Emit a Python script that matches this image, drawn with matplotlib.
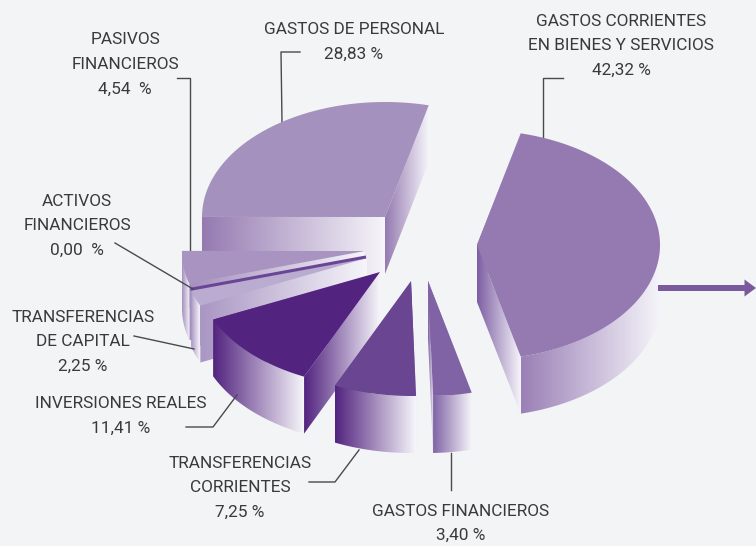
import numpy as np
import matplotlib
matplotlib.use("Agg")
import matplotlib.pyplot as plt
from matplotlib.colors import LinearSegmentedColormap
from matplotlib.patches import Polygon

#slices clockwise, starting from the big one
categories = ["GASTOS CORRIENTES\nEN BIENES Y SERVICIOS", "GASTOS FINANCIEROS", "TRANSFERENCIAS\nCORRIENTES",
	"INVERSIONES REALES", "TRANSFERENCIAS\nDE CAPITAL", "ACTIVOS\nFINANCIEROS", "PASIVOS\nFINANCIEROS", "GASTOS DE PERSONAL"]
values = [42.32, 3.40, 7.25, 11.41, 2.25, 0.00, 4.54, 28.83]
value_labels = ["42,32 %", "3,40 %", "7,25 %", "11,41 %", "2,25 %", "0,00  %", "4,54  %", "28,83 %"]

#pixel position of each slice's apex (how far it was pulled out of the pie)
apex_x = [477, 428, 411, 380, 367, 366, 365, 385]
apex_y = [245, 281, 281, 272, 258, 257, 251, 217]
top_colors = ["#957ab1", "#8063a5", "#694592", "#52237f", "#baabd0", "#6a4596", "#a994c1", "#a591bd"]
wall_colors = ["#9a80b6", "#8063a5", "#52237f", "#52237f", "#a996c3", "#6a4596", "#a48fbe", "#957ab1"]
cut_colors = ["#7c5ea3", "#7e60a3", "#52237f", "#52237f", "#a996c3", "#6a4596", "#a48fbe", "#957ab1"]
draw_order = [7, 0, 6, 5, 4, 3, 2, 1]

#label anchor (centre x, first line centre y), and leader line points
label_x = [621, 461, 240, 121, 83, 77, 125, 354]
label_y = [21, 511, 463, 404, 317, 201, 40, 30]
leaders = [[(543, 137), (543, 78), (563, 78)], [(451, 453), (451, 490)], [(359, 450), (335, 482), (309, 482)],
	[(237, 395), (213, 427), (186, 427)], [(194, 349), (134, 336)], [(193, 289), (115, 243)],
	[(190, 250), (190, 78), (177, 78)], [(282, 122), (281, 52), (300, 52)]]

RX = 183
RY = 115
DEPTH = 57
START = 76.18
BG = "#f2f4f6"
TXT = "#3a3a3c"


def gradient_fill(ax, pts, color, z):
	#left to right gradient towards near white, clipped to the polygon
	pts = np.array(pts)
	cmap = LinearSegmentedColormap.from_list("g", [color, "#f6f5fa"])
	im = ax.imshow(np.linspace(0, 1, 256).reshape(1, -1), cmap=cmap, aspect="auto", zorder=z,
		extent=[pts[:, 0].min(), pts[:, 0].max(), pts[:, 1].max(), pts[:, 1].min()])
	poly = Polygon(pts, closed=True, transform=ax.transData)
	im.set_clip_path(poly)


def draw_slice(ax, i, a0, a1, z):
	cx, cy = apex_x[i], apex_y[i]
	if values[i] == 0:
		r = np.radians(a0)
		ax.plot([cx, cx + RX*np.cos(r)], [cy, cy - RY*np.sin(r)], color=top_colors[i], lw=2.2, zorder=z + 4, solid_capstyle="butt")
		return

	t = np.radians(np.linspace(a0, a1, 200))
	rim_x = cx + RX*np.cos(t)
	rim_y = cy - RY*np.sin(t)

	#cut faces, the one further back first
	cuts = [(rim_x[0], rim_y[0]), (rim_x[-1], rim_y[-1])]
	cuts.sort(key=lambda p: p[1])
	for n, (x, y) in enumerate(cuts):
		gradient_fill(ax, [(cx, cy), (x, y), (x, y + DEPTH), (cx, cy + DEPTH)], cut_colors[i], z + n*0.1)

	#outer wall, only the part that faces the viewer
	front = np.sin(t) < 0
	if front.any():
		fx, fy = rim_x[front], rim_y[front]
		wall = list(zip(fx, fy)) + list(zip(fx[::-1], fy[::-1] + DEPTH))
		gradient_fill(ax, wall, wall_colors[i], z + 0.2)

	top = [(cx, cy)] + list(zip(rim_x, rim_y))
	ax.add_patch(Polygon(top, closed=True, facecolor=top_colors[i], edgecolor="none", zorder=z + 0.3))


def main():
	fig = plt.figure(figsize=(7.56, 5.46), dpi=100, facecolor=BG)
	ax = fig.add_axes([0, 0, 1, 1])
	ax.set_facecolor(BG)

	#each slice sweeps in proportion to its value, clockwise
	sweep = np.array(values)*3.6
	ends = START - np.cumsum(sweep)
	starts = ends + sweep
	for z, i in enumerate(draw_order):
		draw_slice(ax, i, starts[i], ends[i], 3 + z)

	ax.set_xlim(0, 756)
	ax.set_ylim(546, 0)
	ax.axis("off")

	for pts in leaders:
		xs, ys = zip(*pts)
		ax.plot(xs, ys, color="#4a4a4c", lw=1.0, zorder=2 if pts[0][1] < 260 and pts[0][0] != 193 else 20)

	for i in range(len(categories)):
		for k, line in enumerate(categories[i].split("\n") + [value_labels[i]]):
			ax.text(label_x[i], label_y[i] + k*24.7, line, ha="center", va="center", color=TXT, fontsize=12.4,
				family="Roboto", zorder=30)

	#arrow leaving the big slice
	ax.arrow(658, 288, 98, 0, width=6, head_width=17, head_length=11.5, length_includes_head=True,
		facecolor="#7a5a9f", edgecolor="none", zorder=25)

	fig.savefig("out.png", dpi=100, facecolor=BG)


if __name__ == '__main__':
	main()
